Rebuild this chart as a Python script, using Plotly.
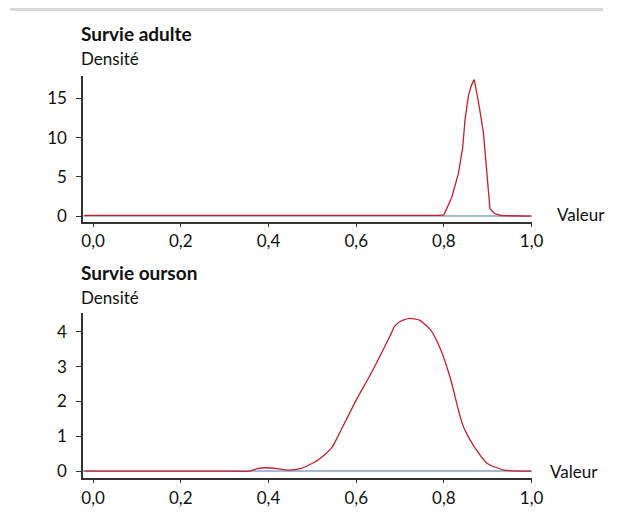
import plotly.graph_objects as go

# page body has an 8px margin: figure sits at (8, 8) in the window
OX, OY = 8, 8
W, H = 607, 500
# the photographed page comes out slightly compressed; compensate positions
SX, SY = 0.978, 0.99

# ---- data ----
adult_x = [-0.02, 0.10, 0.30, 0.50, 0.70, 0.79, 0.80, 0.818, 0.833, 0.843, 0.848, 0.856, 0.863, 0.869,
           0.878, 0.89, 0.905, 0.916, 0.932, 0.96, 1.0]
adult_y = [0.08, 0.08, 0.06, 0.05, 0.05, 0.1, 0.15, 2.4, 5.4, 8.8, 12.2, 15.4, 16.7, 17.4,
           14.8, 10.7, 0.94, 0.3, 0.05, 0.0, 0.0]

cub_x = [-0.02, 0.10, 0.30, 0.357, 0.375, 0.395, 0.42, 0.445, 0.475, 0.513, 0.543, 0.558, 0.60, 0.634,
         0.68, 0.687, 0.70, 0.721, 0.744, 0.77, 0.793, 0.816, 0.835, 0.846, 0.869, 0.899, 0.937, 0.97, 1.0]
cub_y = [0.0, 0.0, 0.0, 0.0, 0.07, 0.095, 0.07, 0.03, 0.08, 0.32, 0.65, 0.99, 2.04, 2.81,
         3.96, 4.15, 4.3, 4.39, 4.34, 4.05, 3.48, 2.61, 1.66, 1.23, 0.7, 0.22, 0.03, 0.0, 0.0]

x_ticks = [0.0, 0.2, 0.4, 0.6, 0.8, 1.0]
adult_yticks = [0, 5, 10, 15]
cub_yticks = [0, 1, 2, 3, 4]

titles = ["Survie adulte", "Survie ourson"]
ylabel = "Densité"
xlabel = "Valeur"

RED = "#c8202a"
BLUE = "#84a3c4"
AX = "#333333"
FONT = "Lato"
FS = 17

def px(x):
    return (x / SX - OX) / W

def py(y):
    return 1 - (y / SY - OY) / H

fig = go.Figure()

fig.add_trace(go.Scatter(x=[-0.0228, 1.0], y=[0, 0], mode="lines", line=dict(color=BLUE, width=1.5),
                         xaxis="x", yaxis="y", hoverinfo="skip"))
fig.add_trace(go.Scatter(x=adult_x, y=adult_y, mode="lines", line=dict(color=RED, width=1.3),
                         xaxis="x", yaxis="y"))
fig.add_trace(go.Scatter(x=[-0.0228, 1.0], y=[0, 0], mode="lines", line=dict(color=BLUE, width=1.5),
                         xaxis="x2", yaxis="y2", hoverinfo="skip"))
fig.add_trace(go.Scatter(x=cub_x, y=cub_y, mode="lines", line=dict(color=RED, width=1.3, shape="spline", smoothing=0.6),
                         xaxis="x2", yaxis="y2"))

xdom = [px(81), px(530)]
common_x = dict(range=[-0.0228, 1.0], tickvals=x_ticks, tickformat=".1f", showline=True, linecolor=AX,
                linewidth=1.5, ticks="outside", ticklen=3, tickcolor=AX, showgrid=False, zeroline=False,
                tickfont=dict(size=FS, color="#111", family=FONT), domain=xdom, fixedrange=True)
common_y = dict(showline=True, linecolor=AX, linewidth=1.5, ticks="outside", ticklen=5, tickcolor=AX,
                showgrid=False, zeroline=False, tickfont=dict(size=FS, color="#111", family=FONT),
                ticklabelstandoff=6, fixedrange=True)

fig.update_layout(
    width=W, height=H, margin=dict(l=0, r=0, t=0, b=0), autosize=False,
    paper_bgcolor="white", plot_bgcolor="rgba(0,0,0,0)", showlegend=False,
    separators=", ",
    font=dict(family=FONT, size=FS, color="#111"),
    xaxis=dict(**common_x, anchor="y"),
    yaxis=dict(**common_y, range=[-0.77, 17.85], tickvals=adult_yticks, domain=[py(222), py(76)], anchor="x"),
    xaxis2=dict(**common_x, anchor="y2"),
    yaxis2=dict(**common_y, range=[-0.21, 4.55], tickvals=cub_yticks, domain=[py(478.3), py(312.7)], anchor="x2"),
)

# visible part of the frame shadow (top edge)
fig.update_layout(shapes=[dict(type="rect", xref="paper", yref="paper", x0=0, x1=1, y0=py(11), y1=1,
                               fillcolor="#d9d9d9", line=dict(width=0), layer="below")])

def ann(text, x, y, bold=False):
    fig.add_annotation(text=f"<b>{text}</b>" if bold else text, xref="paper", yref="paper",
                       x=px(x), y=py(y), xanchor="left", yanchor="middle", showarrow=False,
                       font=dict(size=19 if bold else FS, family=FONT, color="#111"))

ann(titles[0], 77, 33, bold=True)
ann(ylabel, 77, 58)
ann(xlabel, 553, 214)
ann(titles[1], 77, 272, bold=True)
ann(ylabel, 77, 297)
ann(xlabel, 546, 471)

fig.write_html("out.html", config={"displayModeBar": False})
